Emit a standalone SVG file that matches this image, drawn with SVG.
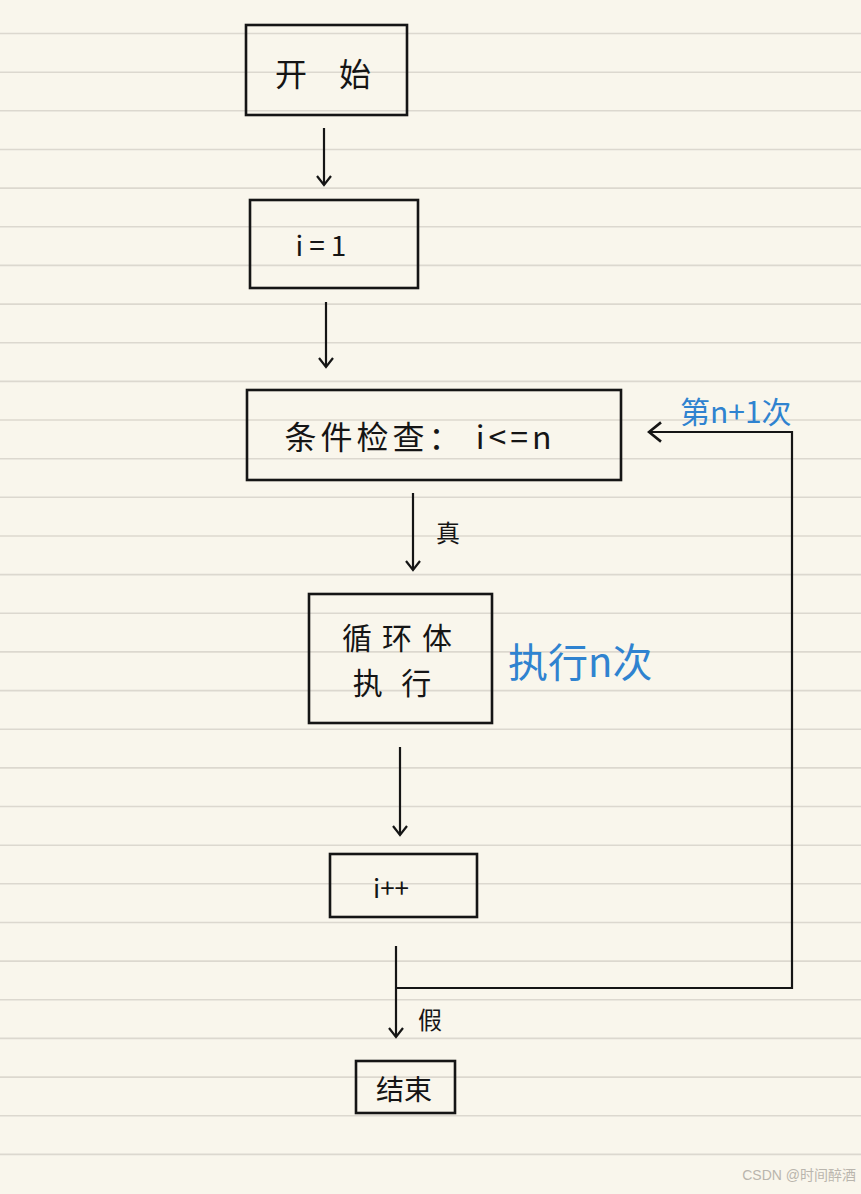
<svg xmlns="http://www.w3.org/2000/svg" width="861" height="1194" viewBox="0 0 861 1194">
<style>
.box{fill:none;stroke:#151515;stroke-width:2.6}
.ln{fill:none;stroke:#151515;stroke-width:2.2}
.t{font-family:"Noto Sans CJK SC","Noto Sans",sans-serif;fill:#151515;text-anchor:middle;dominant-baseline:central}
.b{font-family:"Noto Sans CJK SC","Noto Sans",sans-serif;fill:#2f83d0;dominant-baseline:central}
.rule{stroke:#dcd8cf;stroke-width:1.6}
</style>
<defs>
<marker id="ah" viewBox="0 0 20 20" refX="18" refY="10" markerWidth="20" markerHeight="20" markerUnits="userSpaceOnUse" orient="auto">
<polyline points="9,3 18,10 9,17" fill="none" stroke="#151515" stroke-width="2.2"/>
</marker>
<marker id="ahl" viewBox="0 0 20 20" refX="18" refY="10" markerWidth="24" markerHeight="24" markerUnits="userSpaceOnUse" orient="auto">
<polyline points="8,2 18,10 8,18" fill="none" stroke="#151515" stroke-width="2.2"/>
</marker>
</defs>
<rect width="861" height="1194" fill="#f9f6ec"/>
<g id="ruling">
<line class="rule" x1="0" x2="861" y1="33.5" y2="33.5"/><line class="rule" x1="0" x2="861" y1="72.2" y2="72.2"/><line class="rule" x1="0" x2="861" y1="110.8" y2="110.8"/><line class="rule" x1="0" x2="861" y1="149.5" y2="149.5"/><line class="rule" x1="0" x2="861" y1="188.1" y2="188.1"/><line class="rule" x1="0" x2="861" y1="226.8" y2="226.8"/><line class="rule" x1="0" x2="861" y1="265.4" y2="265.4"/><line class="rule" x1="0" x2="861" y1="304.1" y2="304.1"/><line class="rule" x1="0" x2="861" y1="342.7" y2="342.7"/><line class="rule" x1="0" x2="861" y1="381.4" y2="381.4"/><line class="rule" x1="0" x2="861" y1="420" y2="420"/><line class="rule" x1="0" x2="861" y1="458.7" y2="458.7"/><line class="rule" x1="0" x2="861" y1="497.3" y2="497.3"/><line class="rule" x1="0" x2="861" y1="536" y2="536"/><line class="rule" x1="0" x2="861" y1="574.6" y2="574.6"/><line class="rule" x1="0" x2="861" y1="613.3" y2="613.3"/><line class="rule" x1="0" x2="861" y1="651.9" y2="651.9"/><line class="rule" x1="0" x2="861" y1="690.6" y2="690.6"/><line class="rule" x1="0" x2="861" y1="729.2" y2="729.2"/><line class="rule" x1="0" x2="861" y1="767.9" y2="767.9"/><line class="rule" x1="0" x2="861" y1="806.5" y2="806.5"/><line class="rule" x1="0" x2="861" y1="845.2" y2="845.2"/><line class="rule" x1="0" x2="861" y1="883.8" y2="883.8"/><line class="rule" x1="0" x2="861" y1="922.5" y2="922.5"/><line class="rule" x1="0" x2="861" y1="961.1" y2="961.1"/><line class="rule" x1="0" x2="861" y1="999.8" y2="999.8"/><line class="rule" x1="0" x2="861" y1="1038.4" y2="1038.4"/><line class="rule" x1="0" x2="861" y1="1077.1" y2="1077.1"/><line class="rule" x1="0" x2="861" y1="1115.7" y2="1115.7"/><line class="rule" x1="0" x2="861" y1="1154.4" y2="1154.4"/>
</g>
<g id="connectors">
<line class="ln" x1="324" y1="128" x2="324" y2="185" marker-end="url(#ah)"/>
<line class="ln" x1="326" y1="302" x2="326" y2="367" marker-end="url(#ah)"/>
<line class="ln" x1="413" y1="493" x2="413" y2="570" marker-end="url(#ah)"/>
<line class="ln" x1="400" y1="747" x2="400" y2="835" marker-end="url(#ah)"/>
<line class="ln" x1="396" y1="946" x2="396" y2="1037" marker-end="url(#ah)"/>
<polyline class="ln" points="396,988 792,988 792,432 649,432" stroke-width="2.6" marker-end="url(#ahl)"/>
<text class="t" x="448" y="531" font-size="24">真</text>
<text class="t" x="430" y="1018" font-size="24">假</text>
<text class="b" x="680" y="410" font-size="30">第n+1次</text>
<text class="b" x="508" y="660" font-size="40">执行n次</text>
</g>
<g id="start">
<rect class="box" x="246" y="25" width="161" height="90"/>
<text class="t" x="323" y="72" font-size="32">开　始</text>
</g>
<g id="init">
<rect class="box" x="250" y="200" width="168" height="88"/>
<text class="t" x="324" y="244" font-size="28" letter-spacing="6">i=1</text>
</g>
<g id="cond">
<rect class="box" x="247" y="390" width="374" height="90"/>
<text class="t" x="420" y="435" font-size="32" letter-spacing="4">条件检查： i&lt;=n</text>
</g>
<g id="body">
<rect class="box" x="309" y="594" width="183" height="129"/>
<text class="t" x="402" y="636" font-size="30" letter-spacing="10">循环体</text>
<text class="t" x="395" y="681" font-size="30" letter-spacing="6">执 行</text>
</g>
<g id="incr">
<rect class="box" x="330" y="854" width="147" height="63"/>
<text class="t" x="391" y="886" font-size="26">i++</text>
</g>
<g id="end">
<rect class="box" x="356" y="1061" width="99" height="52"/>
<text class="t" x="404" y="1088" font-size="28">结束</text>
</g>
<text x="856" y="1180" font-family="Liberation Sans,'Noto Sans CJK SC',sans-serif" font-size="14" fill="#b9b5ad" text-anchor="end">CSDN @时间醉酒</text>
</svg>
